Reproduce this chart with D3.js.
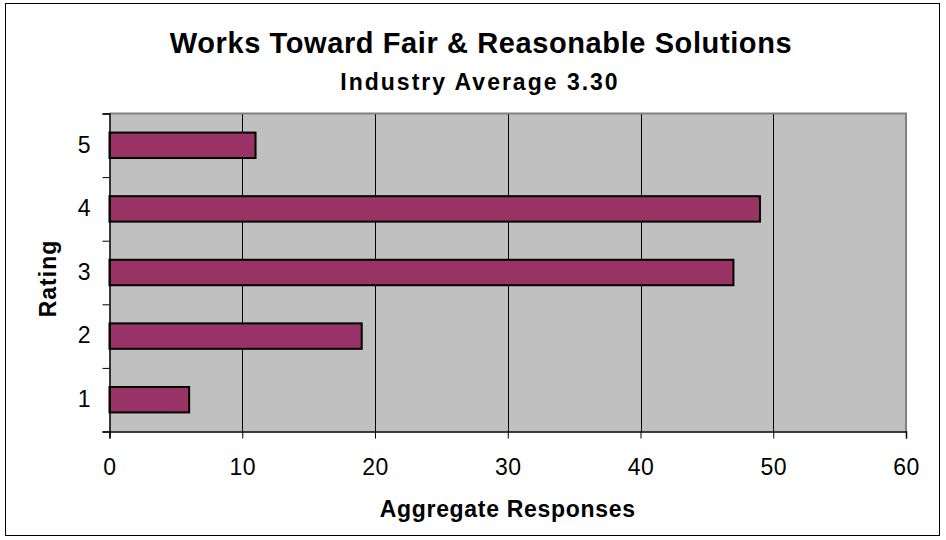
<!DOCTYPE html>
<html>
<head>
<meta charset="utf-8">
<script src="https://cdn.jsdelivr.net/npm/d3@7"></script>
<style>
  body { margin: 0; background: #fff; }
  text { font-family: "Liberation Sans", Arial, sans-serif; }
</style>
</head>
<body>
<script>
// chart data
var ratings = ["1", "2", "3", "4", "5"];
var responses = [6, 19, 47, 49, 11];
var xTicks = [0, 10, 20, 30, 40, 50, 60];
var title = "Works Toward Fair & Reasonable Solutions";
var subtitle = "Industry Average 3.30";
var xTitle = "Aggregate Responses";
var yTitle = "Rating";

var width = 946,
    height = 540;
var plot = {left: 109.5, right: 906, top: 113.5, bottom: 431.5};

var svg = d3.select("body").append("svg")
    .attr("width", width)
    .attr("height", height);

// outer chart border
svg.append("rect")
    .attr("x", 5.5).attr("y", 3.5)
    .attr("width", 934).attr("height", 532)
    .attr("fill", "#fff")
    .attr("stroke", "#000")
    .attr("stroke-width", 1);

var x = d3.scaleLinear()
    .domain([0, 60])
    .range([plot.left, plot.right]);

var y = d3.scaleBand()
    .domain(ratings.slice().reverse())
    .range([plot.top, plot.bottom])
    .paddingInner(0.6)
    .paddingOuter(0.3);

// linear scale at band edges, used for the y tick marks
var yEdge = d3.scaleLinear()
    .domain([0.5, ratings.length + 0.5])
    .range([plot.bottom, plot.top]);

// plot background
svg.append("rect")
    .attr("x", plot.left).attr("y", plot.top)
    .attr("width", plot.right - plot.left)
    .attr("height", plot.bottom - plot.top)
    .attr("fill", "#c0c0c0");

// gridlines
svg.append("g")
    .selectAll("line")
    .data(xTicks.slice(1, -1))
    .enter().append("line")
    .attr("x1", function(d) { return Math.round(x(d)) + 0.5; })
    .attr("x2", function(d) { return Math.round(x(d)) + 0.5; })
    .attr("y1", plot.top)
    .attr("y2", plot.bottom)
    .attr("stroke", "#000")
    .attr("stroke-width", 1);

// top and right frame (gray)
svg.append("path")
    .attr("d", "M" + plot.left + "," + plot.top + "H" + plot.right + "V" + plot.bottom)
    .attr("fill", "none")
    .attr("stroke", "#808080")
    .attr("stroke-width", 2);

// bars
svg.append("g")
    .selectAll("rect")
    .data(ratings)
    .enter().append("rect")
    .attr("x", x(0))
    .attr("y", function(d) { return y(d); })
    .attr("width", function(d, i) { return x(responses[i]) - x(0); })
    .attr("height", y.bandwidth())
    .attr("fill", "#993366")
    .attr("stroke", "#000")
    .attr("stroke-width", 2);

// x axis
var xAxis = d3.axisBottom(x)
    .tickValues(xTicks)
    .tickSize(7)
    .tickPadding(20);
var gx = svg.append("g")
    .attr("transform", "translate(0," + plot.bottom + ")")
    .call(xAxis);
gx.select(".domain").attr("stroke", "#000").attr("stroke-width", 1.5);
gx.selectAll("text")
    .attr("fill", "#000")
    .style("font-size", "23px")
    .style("letter-spacing", "0.5px");

// y axis: tick marks on band edges
var gyTicks = svg.append("g")
    .attr("transform", "translate(" + plot.left + ",0)")
    .call(d3.axisLeft(yEdge)
        .tickValues(d3.range(0.5, ratings.length + 1, 1))
        .tickSize(7)
        .tickFormat(""));
gyTicks.select(".domain").attr("stroke", "#000").attr("stroke-width", 1.5);

// y axis: labels in band centres
var gy = svg.append("g")
    .attr("transform", "translate(" + plot.left + ",0)")
    .call(d3.axisLeft(y).tickSize(0).tickPadding(19));
gy.select(".domain").remove();
gy.selectAll("text")
    .attr("fill", "#000")
    .style("font-size", "23px");

// titles
svg.append("text")
    .attr("x", 481).attr("y", 53)
    .attr("text-anchor", "middle")
    .style("font-size", "29px")
    .style("font-weight", "bold")
    .style("letter-spacing", "0.6px")
    .text(title);

svg.append("text")
    .attr("x", 480).attr("y", 90)
    .attr("text-anchor", "middle")
    .style("font-size", "23px")
    .style("font-weight", "bold")
    .style("letter-spacing", "2px")
    .text(subtitle);

svg.append("text")
    .attr("x", (plot.left + plot.right) / 2).attr("y", 517)
    .attr("text-anchor", "middle")
    .style("font-size", "23px")
    .style("font-weight", "bold")
    .style("letter-spacing", "0.7px")
    .text(xTitle);

svg.append("text")
    .attr("transform", "translate(56," + ((plot.top + plot.bottom) / 2 + 6) + ") rotate(-90)")
    .attr("text-anchor", "middle")
    .style("font-size", "23px")
    .style("font-weight", "bold")
    .style("letter-spacing", "1px")
    .text(yTitle);
</script>
</body>
</html>
